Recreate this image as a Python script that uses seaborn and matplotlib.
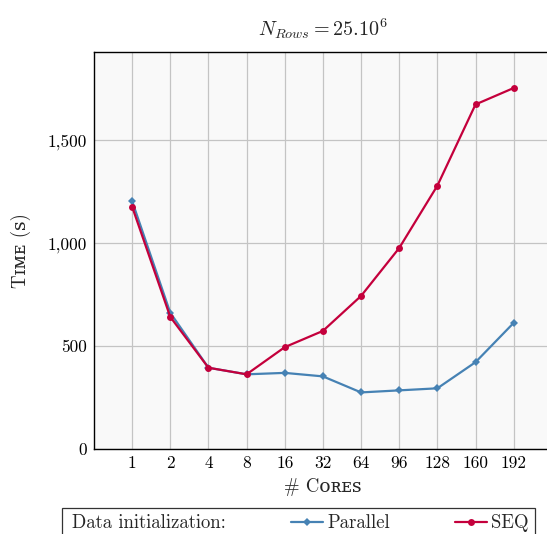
import pandas as pd
import matplotlib.pyplot as plt
import seaborn as sns
from matplotlib.lines import Line2D

# Data
cores = ['1', '2', '4', '8', '16', '32', '64', '96', '128', '160', '192']
parallel = [1205, 662, 395, 363, 370, 353, 275, 285, 295, 422, 613]
seq = [1178, 642, 395, 363, 495, 574, 744, 977, 1280, 1675, 1755]
yticks = [0, 500, 1000, 1500]
ytick_labels = ['0', '500', '1,000', '1,500']

df = pd.DataFrame({
    'cores': cores * 2,
    'time': parallel + seq,
    'init': ['Parallel'] * len(cores) + ['SEQ'] * len(cores),
})

sns.set_style('whitegrid')
plt.rcParams['font.family'] = ['cmr10', 'DejaVu Serif']
plt.rcParams['mathtext.fontset'] = 'cm'
plt.rcParams['axes.formatter.use_mathtext'] = True

fig = plt.figure(figsize=(5.47, 5.34), dpi=100)
ax = fig.add_axes([0.1718, 0.1592, 0.837, 0.7434])
ax.set_facecolor('#f9f9f9')

palette = {'Parallel': '#4682b4', 'SEQ': '#c4003c'}
sns.lineplot(data=df, x='cores', y='time', hue='init', style='init',
             palette=palette, markers={'Parallel': 'D', 'SEQ': 'o'},
             dashes=False, markersize=5, markeredgewidth=0, linewidth=1.6,
             ax=ax, sort=False)
for ln in ax.get_lines():
    if ln.get_marker() == 'D':
        ln.set_markersize(4)

ax.set_xlim(-1, 11)
ax.set_ylim(0, 1930)
ax.set_yticks(yticks)
ax.set_yticklabels(ytick_labels)
ax.grid(True, color='#c4c4c4', linewidth=0.9)
for side in ['left', 'bottom', 'top']:
    ax.spines[side].set_color('black')
    ax.spines[side].set_linewidth(1.0)
ax.spines['right'].set_visible(False)
ax.tick_params(axis='both', direction='in', length=5, width=0.8,
               colors='#555555', labelcolor='black', labelsize=12.5, pad=5)

ax.set_xlabel('# Cᴏʀᴇꜱ', fontsize=13.5, labelpad=5)
ax.set_ylabel('Tɪᴍᴇ (ꜱ)', fontsize=13.5, labelpad=12)
ax.set_title(r'$N_{Rows} = 25.10^6$', fontsize=14.5, pad=12)

handles, labels = ax.get_legend_handles_labels()
ax.get_legend().remove()
blank = Line2D([], [], linestyle='none', marker='none')
leg = fig.legend([blank] + handles, ['Data initialization:'] + labels,
                 ncol=3, loc='upper left', bbox_to_anchor=(0.113, 0.049),
                 borderaxespad=0, frameon=True, fancybox=False,
                 edgecolor='black', handlelength=1.7, handletextpad=0.2,
                 columnspacing=3.5, fontsize=13.5, borderpad=0.35)
leg.get_frame().set_linewidth(0.9)
# no handle space in front of the "Data initialization:" label
first_item = leg._legend_handle_box.get_children()[0].get_children()[0]
first_item.get_children()[0].width = 0

plt.savefig('out.png', dpi=100)
